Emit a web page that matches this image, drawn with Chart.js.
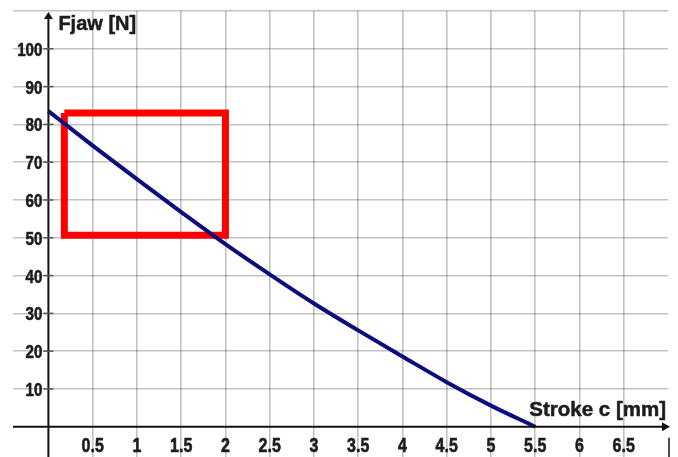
<!DOCTYPE html>
<html>
<head>
<meta charset="utf-8">
<script src="https://cdn.jsdelivr.net/npm/chart.js@4.4.1/dist/chart.umd.min.js"></script>
<style>
  html, body { margin: 0; padding: 0; background: #fff; }
  #wrap { width: 678px; height: 457px; }
</style>
</head>
<body>
<div id="wrap"><canvas id="chart" width="678" height="457"></canvas></div>
<script>
// ── Data ───────────────────────────────────────────────────
const strokeMm  = [0, 0.5, 1, 1.5, 2, 2.5, 3, 3.5, 4, 4.5, 5, 5.5];
const jawForceN = [83.5, 74.4, 65.5, 56.8, 48.3, 40.3, 32.6, 25.5, 18.6, 11.8, 5.6, 0];

// highlighted window (red box)
const boxStroke = [0.18, 2, 2, 0.18, 0.18];
const boxForce  = [83, 83, 50.7, 50.7, 83];

// axis ticks / gridlines
const xTickValues = [0.5, 1, 1.5, 2, 2.5, 3, 3.5, 4, 4.5, 5, 5.5, 6, 6.5];
const xTickLabels = ['0.5', '1', '1.5', '2', '2.5', '3', '3.5', '4', '4.5', '5', '5.5', '6', '6.5'];
const yTickValues = [-10, 10, 20, 30, 40, 50, 60, 70, 80, 90, 100];
const yTickLabels = ['-10', '10', '20', '30', '40', '50', '60', '70', '80', '90', '100'];
const yGridValues = [10, 20, 30, 40, 50, 60, 70, 80, 90, 100, 110];

const xTitle = 'Stroke c [mm]';
const yTitle = 'Fjaw [N]';

// heavy text: fill plus a thin stroke, optionally squeezed sideways
function heavyText(ctx, text, x, y, sx) {
  ctx.save();
  ctx.translate(x, y);
  ctx.scale(sx, 1);
  ctx.fillText(text, 0, 0);
  ctx.strokeText(text, 0, 0);
  ctx.restore();
}

// ── Axes drawn through the origin, with arrows ─────────────
const axesPlugin = {
  id: 'originAxes',
  afterDatasetsDraw(chart) {
    const { ctx, chartArea, scales: { x, y } } = chart;
    const x0 = x.getPixelForValue(0);
    const y0 = y.getPixelForValue(0);
    ctx.save();
    ctx.strokeStyle = '#111';
    ctx.fillStyle = '#111';
    ctx.lineWidth = 2;

    // y axis + arrow
    ctx.beginPath();
    ctx.moveTo(x0, chartArea.top + 6);
    ctx.lineTo(x0, chartArea.bottom);
    ctx.stroke();
    ctx.beginPath();
    ctx.moveTo(x0, chartArea.top + 1);
    ctx.lineTo(x0 - 4.5, chartArea.top + 8);
    ctx.lineTo(x0 + 4.5, chartArea.top + 8);
    ctx.closePath();
    ctx.fill();

    // x axis + arrow
    const xEnd = chartArea.right + 2;
    ctx.beginPath();
    ctx.moveTo(chartArea.left, y0);
    ctx.lineTo(xEnd - 6, y0);
    ctx.stroke();
    ctx.beginPath();
    ctx.moveTo(xEnd, y0);
    ctx.lineTo(xEnd - 8, y0 - 4.5);
    ctx.lineTo(xEnd - 8, y0 + 4.5);
    ctx.closePath();
    ctx.fill();

    // stray frame edge bottom right
    ctx.lineWidth = 1.5;
    ctx.beginPath();
    ctx.moveTo(chartArea.right + 1, y0 + 11);
    ctx.lineTo(chartArea.right + 1, chartArea.bottom);
    ctx.stroke();

    // small y ticks across the axis
    ctx.strokeStyle = '#555';
    ctx.lineWidth = 1.5;
    yTickValues.forEach(v => {
      const py = y.getPixelForValue(v);
      ctx.beginPath();
      ctx.moveTo(x0 - 5, py);
      ctx.lineTo(x0 + 5, py);
      ctx.stroke();
    });

    // tick labels
    ctx.fillStyle = '#1c1c1c';
    ctx.strokeStyle = '#1c1c1c';
    ctx.lineWidth = 0.6;
    ctx.lineJoin = 'round';
    ctx.textAlign = 'right';
    ctx.textBaseline = 'alphabetic';
    ctx.font = 'bold 18px "Liberation Sans", Arial, sans-serif';
    yTickValues.forEach((v, i) => {
      heavyText(ctx, yTickLabels[i], x0 - 6, y.getPixelForValue(v) + 7, 0.84);
    });

    ctx.textAlign = 'center';
    ctx.font = 'bold 20px "Liberation Sans", Arial, sans-serif';
    xTickValues.forEach((v, i) => {
      heavyText(ctx, xTickLabels[i], x.getPixelForValue(v), y0 + 25, 0.8);
    });

    // axis titles
    ctx.lineWidth = 0.5;
    ctx.textAlign = 'left';
    ctx.font = 'bold 20px "Liberation Sans", Arial, sans-serif';
    heavyText(ctx, yTitle, x0 + 10, chartArea.top + 19, 1);
    ctx.textAlign = 'right';
    ctx.font = 'bold 20.5px "Liberation Sans", Arial, sans-serif';
    heavyText(ctx, xTitle, chartArea.right - 2, y0 - 11, 1);
    ctx.restore();
  }
};

const chart = new Chart(document.getElementById('chart'), {
  type: 'scatter',
  data: {
    datasets: [
      {
        label: 'Fjaw',
        data: strokeMm.map((s, i) => ({ x: s, y: jawForceN[i] })),
        showLine: true,
        borderColor: '#0c0c7c',
        borderWidth: 4,
        pointRadius: 0,
        cubicInterpolationMode: 'monotone',
        order: 0,
      },
      {
        label: 'window',
        data: boxStroke.map((s, i) => ({ x: s, y: boxForce[i] })),
        showLine: true,
        borderColor: '#ff0000',
        borderWidth: 7,
        borderJoinStyle: 'miter',
        pointRadius: 0,
        tension: 0,
        order: 1,
      },
    ],
  },
  options: {
    responsive: false,
    animation: false,
    layout: { padding: { left: 13, right: 10, top: 11, bottom: 0 }, autoPadding: false },
    plugins: { legend: { display: false }, tooltip: { enabled: false } },
    scales: {
      x: {
        type: 'linear',
        min: -0.4,
        max: 7,
        afterBuildTicks: s => { s.ticks = xTickValues.map(v => ({ value: v })); },
        ticks: { display: false },
        border: { display: false },
        grid: { color: 'rgba(0,0,0,0.24)', lineWidth: 1.6, drawTicks: false },
      },
      y: {
        type: 'linear',
        min: -8,
        max: 110,
        afterBuildTicks: s => { s.ticks = yGridValues.map(v => ({ value: v })); },
        ticks: { display: false },
        border: { display: false },
        grid: { color: 'rgba(0,0,0,0.24)', lineWidth: 1.6, drawTicks: false },
      },
    },
  },
  plugins: [axesPlugin],
});
</script>
</body>
</html>
